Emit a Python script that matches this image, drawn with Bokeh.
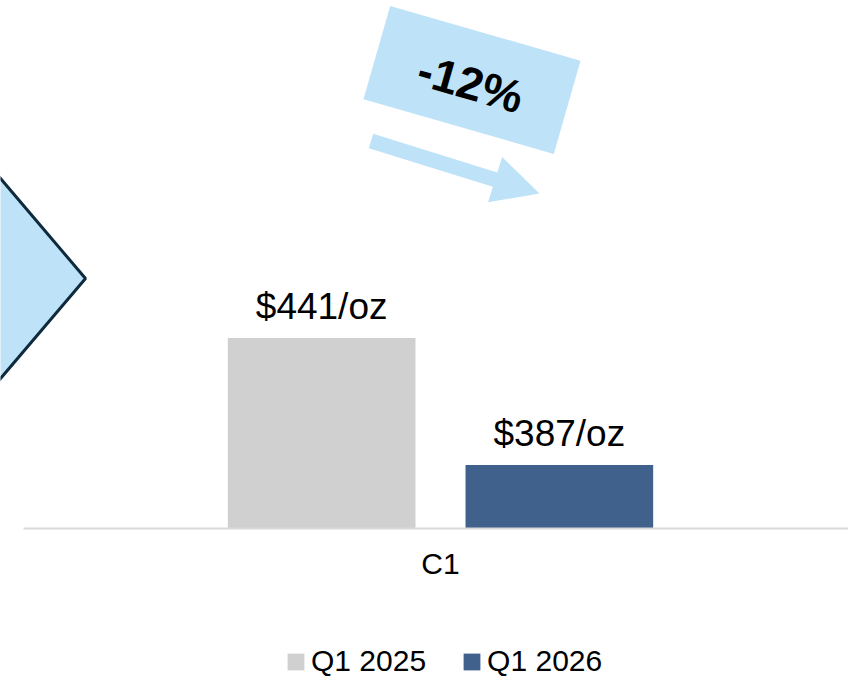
import math
from bokeh.plotting import figure
from bokeh.models import (Range1d, ColumnDataSource, LabelSet, Label, FixedTicker,
                          PolyAnnotation, Legend, LegendItem)
from bokeh.transform import dodge
from bokeh.core.properties import value
from bokeh.embed import file_html
from bokeh.resources import INLINE

# ---------------- data ----------------
CATEGORIES = ["C1"]
SERIES = ["Q1 2025", "Q1 2026"]
Q1_2025 = [441]
Q1_2026 = [387]
UNIT = "/oz"

# ---------------- style / layout ----------------
COLORS = ["#D0D0D0", "#3F618C"]
ACCENT = "#BEE3F8"
DIAMOND_EDGE = "#0F2A3D"
AXIS_COLOR = "#D9D9D9"
FONT = "Liberation Sans"

W, H = 848, 676
AXIS_PX = 528          # pixel row of the category axis
AXIS_VAL = 360         # value at the category axis
PX_PER_VAL = 2.352
Y_TOP = AXIS_VAL + AXIS_PX / PX_PER_VAL
Y_BOT = AXIS_VAL - (H - AXIS_PX) / PX_PER_VAL
CENTER_PX = 440        # pixel of the category centre
UNIT_PX = 834          # pixels per category slot
X0 = -CENTER_PX / UNIT_PX
X1 = (W - CENTER_PX) / UNIT_PX

p = figure(width=W, height=H,
           x_range=Range1d(X0, X1), y_range=Range1d(Y_BOT, Y_TOP),
           output_backend="svg", toolbar_location=None,
           y_axis_location=None,
           min_border=0)
p.outline_line_color = None
p.grid.visible = False
p.background_fill_color = "white"
p.border_fill_color = "white"


def dx(px):
    return (px - CENTER_PX) / UNIT_PX


def dy(py):
    return Y_TOP - py * (Y_TOP - Y_BOT) / H


def to_data(pts):
    return [dx(x) for x, _ in pts], [dy(y) for _, y in pts]


def rotate(pts, cx, cy, deg):
    t = math.radians(deg)
    c, s = math.cos(t), math.sin(t)
    return [(cx + x * c - y * s, cy + x * s + y * c) for x, y in pts]


# ---------------- decorations ----------------
dcx, dcy, dw, dh = -85, 278, 170, 200
diamond = [(dcx, dcy - dh), (dcx + dw, dcy), (dcx, dcy + dh), (dcx - dw, dcy)]
xs, ys = to_data(diamond)
p.add_layout(PolyAnnotation(xs=xs, ys=ys, fill_color=ACCENT, fill_alpha=1,
                            line_color=DIAMOND_EDGE, line_alpha=1, line_width=3))

bw, bh = 198, 97
box = rotate([(-bw / 2, -bh / 2), (bw / 2, -bh / 2), (bw / 2, bh / 2), (-bw / 2, bh / 2)],
             471.5, 79.5, 16)
xs, ys = to_data(box)
p.add_layout(PolyAnnotation(xs=xs, ys=ys, fill_color=ACCENT, fill_alpha=1,
                            line_alpha=0))

L, hl, sw, hw = 176.5, 46.5, 7.5, 23.7
arrow = rotate([(0, -sw), (L - hl, -sw), (L - hl, -hw), (L, 0), (L - hl, hw),
                (L - hl, sw), (0, sw)], 370.5, 140.5, 17.3)
xs, ys = to_data(arrow)
p.add_layout(PolyAnnotation(xs=xs, ys=ys, fill_color=ACCENT, fill_alpha=1,
                            line_alpha=0))

pct = round((Q1_2026[0] - Q1_2025[0]) / Q1_2025[0] * 100)
p.add_layout(Label(x=dx(470), y=dy(83), text=f"{pct}%", angle=math.radians(-16),
                   text_font=FONT, text_font_style="bold", text_font_size="46px",
                   text_color="black", text_align="center", text_baseline="middle"))

# ---------------- bars ----------------
idx = list(range(len(CATEGORIES)))
offsets = [-0.1425, 0.1425]
bar_w = 0.225
items = []
for name, vals, color, off in zip(SERIES, [Q1_2025, Q1_2026], COLORS, offsets):
    src = ColumnDataSource(dict(idx=idx, cat=CATEGORIES, val=vals,
                                label=[f"${v}{UNIT}" for v in vals]))
    r = p.vbar(x=dodge("idx", off), top="val", bottom=AXIS_VAL,
               width=bar_w, fill_color=color, line_color=None, source=src)
    items.append(LegendItem(label=name, renderers=[r]))
    p.add_layout(LabelSet(x=dodge("idx", off), y="val", text="label",
                          source=src, text_align="center", text_baseline="alphabetic",
                          y_offset=19, text_font=value(FONT), text_font_size="37px",
                          text_color="black"))

# ---------------- axis ----------------
ax = p.xaxis[0]
ax.fixed_location = AXIS_VAL
ax.ticker = FixedTicker(ticks=idx)
ax.major_label_overrides = {i: c for i, c in zip(idx, CATEGORIES)}
ax.bounds = (idx[0] - 0.5, idx[-1] + 0.5)
ax.axis_line_color = AXIS_COLOR
ax.axis_line_width = 2
ax.major_tick_line_color = None
ax.minor_tick_line_color = None
ax.major_tick_out = 0
ax.major_tick_in = 0
ax.major_label_standoff = 18
ax.major_label_text_font = FONT
ax.major_label_text_font_size = "30px"
ax.major_label_text_color = "black"

# ---------------- legend ----------------
legend = Legend(items=items, location=(285, -2), orientation="horizontal",
                glyph_width=21, glyph_height=21, label_standoff=5, spacing=35,
                padding=0, margin=0, border_line_alpha=0, background_fill_alpha=0,
                label_text_font=FONT, label_text_font_size="30px",
                label_text_color="black")
p.add_layout(legend, "center")

open("out.html", "w").write(file_html(p, INLINE))
